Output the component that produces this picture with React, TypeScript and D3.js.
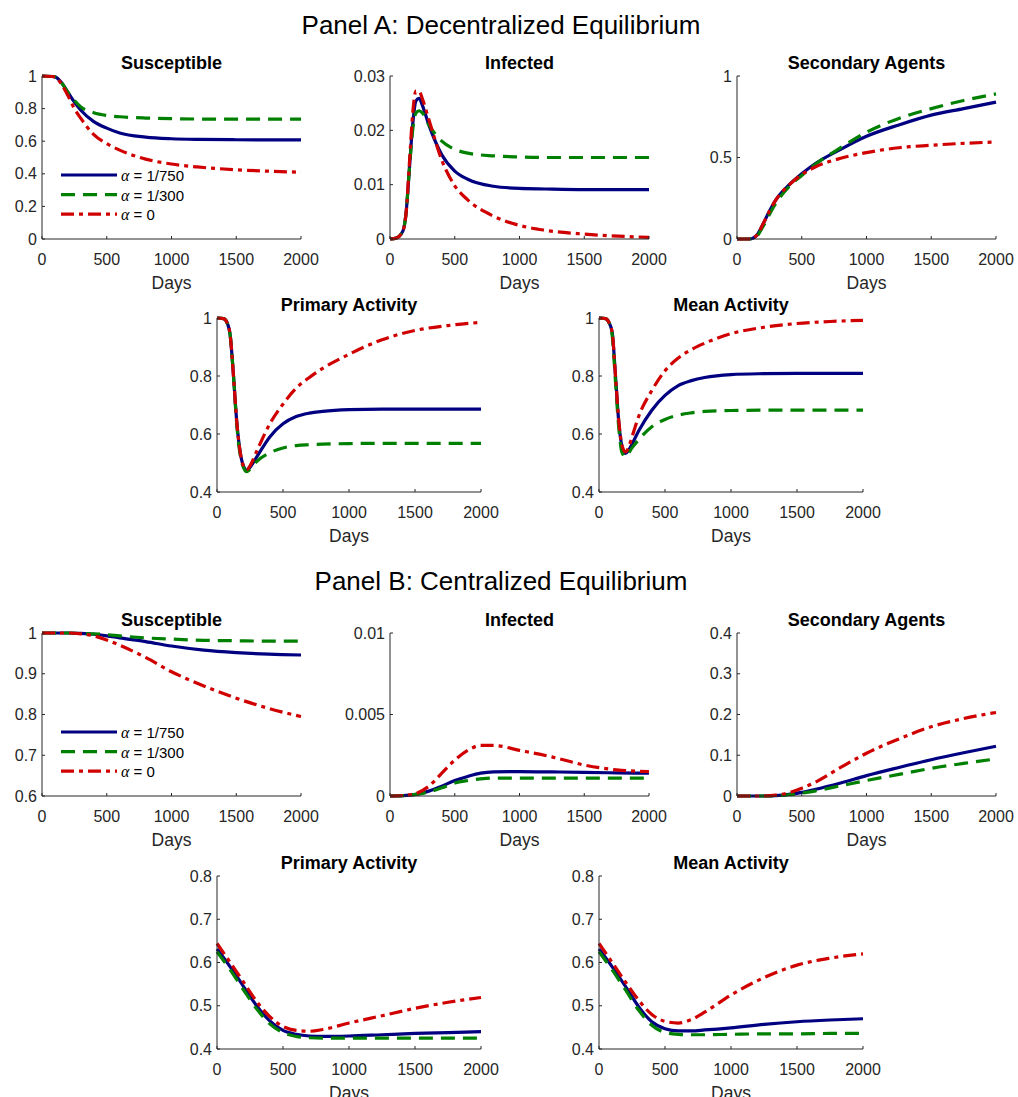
import React from "react";
import * as d3 from "d3";

// ---------------- DATA ----------------
const seriesNames = ["α = 1/750", "α = 1/300", "α = 0"];

// Panel A – Susceptible
const aSusDays = [0, 100, 150, 200, 250, 300, 400, 500, 600, 800, 1000, 1200, 1500, 2000];
const aSusBlue = [1, 0.995, 0.96, 0.9, 0.84, 0.79, 0.72, 0.68, 0.65, 0.625, 0.615, 0.611, 0.609, 0.608];
const aSusGreen = [1, 0.995, 0.96, 0.9, 0.85, 0.81, 0.775, 0.758, 0.75, 0.742, 0.738, 0.736, 0.735, 0.735];
const aSusRed = [1, 0.995, 0.95, 0.88, 0.8, 0.74, 0.64, 0.585, 0.545, 0.49, 0.46, 0.442, 0.425, 0.41];

// Panel A – Infected
const aInfDays = [0, 50, 100, 125, 150, 175, 200, 225, 250, 300, 400, 500, 600, 800, 1000, 1200, 1500, 2000];
const aInfBlue = [0, 0.0002, 0.0015, 0.005, 0.013, 0.021, 0.0254, 0.0259, 0.0246, 0.021, 0.0155, 0.0125, 0.011, 0.0097, 0.0093, 0.0092, 0.0091, 0.0091];
const aInfGreen = [0, 0.0002, 0.0015, 0.005, 0.013, 0.02, 0.0232, 0.0236, 0.0232, 0.021, 0.018, 0.0165, 0.0158, 0.0153, 0.0151, 0.015, 0.015, 0.015];
const aInfRed = [0, 0.0002, 0.0015, 0.005, 0.014, 0.023, 0.0272, 0.0272, 0.0258, 0.022, 0.0145, 0.0098, 0.0072, 0.0042, 0.0025, 0.0016, 0.0009, 0.0003];

// Panel A – Secondary Agents
const aSecDays = [0, 100, 150, 200, 250, 300, 400, 500, 600, 800, 1000, 1250, 1500, 1750, 2000];
const aSecBlue = [0, 0, 0.02, 0.09, 0.17, 0.24, 0.33, 0.4, 0.46, 0.55, 0.63, 0.7, 0.76, 0.8, 0.84];
const aSecGreen = [0, 0, 0.015, 0.075, 0.15, 0.22, 0.32, 0.39, 0.455, 0.56, 0.655, 0.74, 0.8, 0.85, 0.89];
const aSecRed = [0, 0, 0.02, 0.09, 0.17, 0.24, 0.33, 0.395, 0.44, 0.495, 0.53, 0.56, 0.575, 0.587, 0.595];

// Panel A – Primary / Mean Activity
const aActDays = [0, 50, 75, 100, 125, 150, 175, 200, 225, 250, 300, 400, 500, 600, 700, 800, 1000, 1250, 1500, 1750, 2000];
const aPriBlue = [1, 0.998, 0.985, 0.94, 0.8, 0.64, 0.54, 0.49, 0.475, 0.485, 0.52, 0.59, 0.635, 0.66, 0.672, 0.678, 0.684, 0.686, 0.686, 0.686, 0.686];
const aPriGreen = [1, 0.998, 0.985, 0.94, 0.8, 0.63, 0.53, 0.485, 0.47, 0.478, 0.505, 0.535, 0.552, 0.56, 0.563, 0.565, 0.567, 0.568, 0.568, 0.568, 0.568];
const aPriRed = [1, 0.998, 0.985, 0.94, 0.8, 0.64, 0.54, 0.49, 0.477, 0.49, 0.54, 0.635, 0.703, 0.758, 0.795, 0.826, 0.875, 0.925, 0.957, 0.974, 0.985];
const aMeanBlue = [1, 0.998, 0.985, 0.95, 0.8, 0.64, 0.555, 0.533, 0.545, 0.565, 0.61, 0.682, 0.733, 0.767, 0.784, 0.795, 0.805, 0.808, 0.809, 0.809, 0.809];
const aMeanGreen = [1, 0.998, 0.985, 0.94, 0.78, 0.62, 0.535, 0.522, 0.535, 0.552, 0.58, 0.625, 0.65, 0.665, 0.673, 0.678, 0.681, 0.682, 0.682, 0.682, 0.682];
const aMeanRed = [1, 0.998, 0.985, 0.95, 0.8, 0.645, 0.56, 0.538, 0.555, 0.59, 0.66, 0.75, 0.818, 0.862, 0.891, 0.913, 0.946, 0.968, 0.981, 0.988, 0.992];

// Panel B – Susceptible
const bSusDays = [0, 200, 300, 400, 500, 600, 800, 1000, 1250, 1500, 1750, 2000];
const bSusBlue = [1, 1, 0.999, 0.997, 0.993, 0.988, 0.979, 0.968, 0.958, 0.952, 0.948, 0.946];
const bSusGreen = [1, 1, 0.999, 0.998, 0.996, 0.993, 0.988, 0.985, 0.982, 0.981, 0.98, 0.98];
const bSusRed = [1, 1, 0.998, 0.993, 0.983, 0.97, 0.94, 0.905, 0.87, 0.84, 0.815, 0.795];

// Panel B – Infected
const bInfDays = [0, 100, 200, 300, 400, 500, 600, 700, 800, 1000, 1250, 1500, 1750, 2000];
const bInfBlue = [0, 0.00002, 0.0001, 0.0003, 0.0006, 0.00095, 0.0012, 0.0014, 0.00148, 0.0015, 0.00148, 0.00145, 0.00142, 0.0014];
const bInfGreen = [0, 0.00002, 0.0001, 0.00025, 0.0005, 0.0008, 0.00095, 0.00105, 0.0011, 0.0011, 0.0011, 0.0011, 0.0011, 0.0011];
const bInfRed = [0, 0.00003, 0.00015, 0.0006, 0.0014, 0.0022, 0.0028, 0.0031, 0.0031, 0.0028, 0.0024, 0.0019, 0.0016, 0.0015];

// Panel B – Secondary Agents
const bSecDays = [0, 200, 300, 400, 500, 600, 800, 1000, 1250, 1500, 1750, 2000];
const bSecBlue = [0, 0, 0.001, 0.004, 0.009, 0.016, 0.032, 0.05, 0.07, 0.089, 0.106, 0.122];
const bSecGreen = [0, 0, 0.0005, 0.003, 0.007, 0.012, 0.025, 0.038, 0.053, 0.068, 0.08, 0.091];
const bSecRed = [0, 0, 0.002, 0.008, 0.019, 0.033, 0.07, 0.105, 0.14, 0.17, 0.19, 0.205];

// Panel B – Primary / Mean Activity
const bActDays = [0, 100, 200, 300, 400, 500, 600, 700, 800, 1000, 1250, 1500, 1750, 2000];
const bPriBlue = [0.631, 0.59, 0.545, 0.5, 0.465, 0.443, 0.434, 0.43, 0.429, 0.43, 0.433, 0.436, 0.438, 0.44];
const bPriGreen = [0.625, 0.583, 0.537, 0.493, 0.458, 0.438, 0.429, 0.426, 0.425, 0.425, 0.425, 0.425, 0.425, 0.425];
const bPriRed = [0.644, 0.6, 0.555, 0.51, 0.475, 0.452, 0.443, 0.441, 0.445, 0.46, 0.477, 0.494, 0.508, 0.519];
const bMeanBlue = [0.631, 0.59, 0.545, 0.498, 0.463, 0.447, 0.442, 0.442, 0.444, 0.449, 0.457, 0.463, 0.467, 0.47];
const bMeanGreen = [0.625, 0.583, 0.537, 0.49, 0.455, 0.438, 0.434, 0.433, 0.433, 0.434, 0.435, 0.435, 0.436, 0.436];
const bMeanRed = [0.644, 0.6, 0.555, 0.513, 0.48, 0.464, 0.46, 0.468, 0.485, 0.525, 0.565, 0.594, 0.61, 0.62];

// tick labels
const xTicks = [0, 500, 1000, 1500, 2000];
const ticksA_S = [0, 0.2, 0.4, 0.6, 0.8, 1];
const ticksA_I = [0, 0.01, 0.02, 0.03];
const ticksA_Sec = [0, 0.5, 1];
const ticksA_Act = [0.4, 0.6, 0.8, 1];
const ticksB_S = [0.6, 0.7, 0.8, 0.9, 1];
const ticksB_I = [0, 0.005, 0.01];
const ticksB_Sec = [0, 0.1, 0.2, 0.3, 0.4];
const ticksB_Act = [0.4, 0.5, 0.6, 0.7, 0.8];

// ---------------- STYLE ----------------
const COLORS = ["#000080", "#008000", "#d00000"];
const DASH = ["none", "14,8", "13,5,4,5"];
const FONT = "'Liberation Sans', Arial, Helvetica, sans-serif";
const AXIS = "#262626";

type PanelProps = {
  x0: number; x1: number; yTop: number; yBot: number;
  domain: [number, number]; yTicks: number[]; title: string;
  days: number[]; ys: number[][]; legend?: boolean;
};

function fmt(v: number) {
  return String(+v.toFixed(4));
}

function Panel({ x0, x1, yTop, yBot, domain, yTicks, title, days, ys, legend }: PanelProps) {
  const x = d3.scaleLinear().domain([0, 2000]).range([x0, x1]);
  const y = d3.scaleLinear().domain(domain).range([yBot, yTop]);
  const line = d3.line<number>()
    .x((_, i) => x(days[i]))
    .y((d) => y(d))
    .curve(d3.curveMonotoneX);
  const order = [0, 1, 2];
  const lx0 = x0 + 19;
  const lx1 = x0 + 75;
  const ly = yTop + 99;
  return (
    <g>
      <text x={(x0 + x1) / 2} y={yTop - 7.5} textAnchor="middle" fontFamily={FONT} fontWeight="bold" fontSize={18} fill="#000">{title}</text>
      {order.map((k) => (
        <path key={k} d={line(ys[k]) || ""} fill="none" stroke={COLORS[k]} strokeWidth={3.2}
          strokeDasharray={DASH[k] === "none" ? undefined : DASH[k]} strokeLinejoin="round" />
      ))}
      <line x1={x0} x2={x0} y1={yTop} y2={yBot} stroke={AXIS} strokeWidth={1} />
      <line x1={x0} x2={x1} y1={yBot} y2={yBot} stroke={AXIS} strokeWidth={1} />
      {xTicks.map((t) => (
        <g key={"x" + t}>
          <line x1={x(t)} x2={x(t)} y1={yBot} y2={yBot - 3} stroke={AXIS} />
          <text x={x(t)} y={yBot + 25.5} textAnchor="middle" fontFamily={FONT} fontSize={16} fill={AXIS}>{t}</text>
        </g>
      ))}
      {yTicks.map((t) => (
        <g key={"y" + t}>
          <line x1={x0} x2={x0 + 3} y1={y(t)} y2={y(t)} stroke={AXIS} />
          <text x={x0 - 5} y={y(t) + 5.5} textAnchor="end" fontFamily={FONT} fontSize={16} fill={AXIS}>{fmt(t)}</text>
        </g>
      ))}
      <text x={(x0 + x1) / 2} y={yBot + 49.5} textAnchor="middle" fontFamily={FONT} fontSize={17.5} fill={AXIS}>Days</text>
      {legend && order.map((k) => (
        <g key={"l" + k}>
          <line x1={lx0} x2={lx1} y1={ly + k * 19.6} y2={ly + k * 19.6} stroke={COLORS[k]} strokeWidth={3.2}
            strokeDasharray={DASH[k] === "none" ? undefined : DASH[k]} />
          <text x={lx1 + 4} y={ly + k * 19.6 + 6} fontFamily={FONT} fontSize={15} fill="#000">
            <tspan fontFamily="'Liberation Serif', 'DejaVu Serif', serif" fontStyle="italic" fontSize={16}>α</tspan>
            {seriesNames[k].slice(1)}
          </text>
        </g>
      ))}
    </g>
  );
}

export default function App() {
  return (
    <svg width={1018} height={1097} style={{ display: "block", position: "absolute", left: 0, top: 0, background: "#fff" }}>
      <rect x={0} y={0} width={1018} height={1097} fill="#fff" />
      <text x={501} y={34} textAnchor="middle" fontFamily={FONT} fontSize={26} fill="#000">Panel A: Decentralized Equilibrium</text>
      <text x={501} y={590} textAnchor="middle" fontFamily={FONT} fontSize={26} fill="#000">Panel B: Centralized Equilibrium</text>

      <Panel x0={42} x1={301} yTop={76} yBot={239} domain={[0, 1]} yTicks={ticksA_S} title="Susceptible"
        days={aSusDays} ys={[aSusBlue, aSusGreen, aSusRed]} legend />
      <Panel x0={390} x1={649} yTop={76} yBot={239} domain={[0, 0.03]} yTicks={ticksA_I} title="Infected"
        days={aInfDays} ys={[aInfBlue, aInfGreen, aInfRed]} />
      <Panel x0={737} x1={996} yTop={76} yBot={239} domain={[0, 1]} yTicks={ticksA_Sec} title="Secondary Agents"
        days={aSecDays} ys={[aSecBlue, aSecGreen, aSecRed]} />
      <Panel x0={217} x1={481} yTop={318} yBot={492} domain={[0.4, 1]} yTicks={ticksA_Act} title="Primary Activity"
        days={aActDays} ys={[aPriBlue, aPriGreen, aPriRed]} />
      <Panel x0={599} x1={863} yTop={318} yBot={492} domain={[0.4, 1]} yTicks={ticksA_Act} title="Mean Activity"
        days={aActDays} ys={[aMeanBlue, aMeanGreen, aMeanRed]} />

      <Panel x0={42} x1={301} yTop={633} yBot={796} domain={[0.6, 1]} yTicks={ticksB_S} title="Susceptible"
        days={bSusDays} ys={[bSusBlue, bSusGreen, bSusRed]} legend />
      <Panel x0={390} x1={649} yTop={633} yBot={796} domain={[0, 0.01]} yTicks={ticksB_I} title="Infected"
        days={bInfDays} ys={[bInfBlue, bInfGreen, bInfRed]} />
      <Panel x0={737} x1={996} yTop={633} yBot={796} domain={[0, 0.4]} yTicks={ticksB_Sec} title="Secondary Agents"
        days={bSecDays} ys={[bSecBlue, bSecGreen, bSecRed]} />
      <Panel x0={217} x1={481} yTop={876} yBot={1049} domain={[0.4, 0.8]} yTicks={ticksB_Act} title="Primary Activity"
        days={bActDays} ys={[bPriBlue, bPriGreen, bPriRed]} />
      <Panel x0={599} x1={863} yTop={876} yBot={1049} domain={[0.4, 0.8]} yTicks={ticksB_Act} title="Mean Activity"
        days={bActDays} ys={[bMeanBlue, bMeanGreen, bMeanRed]} />
    </svg>
  );
}
